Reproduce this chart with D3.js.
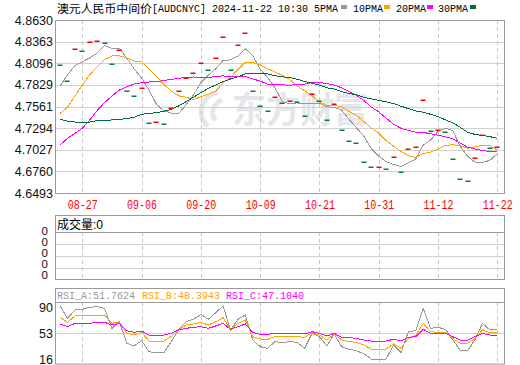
<!DOCTYPE html>
<html><head><meta charset="utf-8">
<script src="https://cdn.jsdelivr.net/npm/d3@7"></script>
<style>
body{margin:0;background:#fff;}
svg{display:block;}
</style></head>
<body><svg id="c" width="520" height="365"></svg>
<script>
// ---------- data ----------
const dates = ["08-22","08-23","08-26","08-27","08-28","08-29","08-30","09-02","09-03","09-04",
"09-05","09-06","09-09","09-10","09-11","09-12","09-13","09-18","09-19","09-20",
"09-23","09-24","09-25","09-26","09-27","09-30","10-08","10-09","10-10","10-11",
"10-14","10-15","10-16","10-17","10-18","10-21","10-22","10-23","10-24","10-25",
"10-28","10-29","10-30","10-31","11-01","11-04","11-05","11-06","11-07","11-08",
"11-11","11-12","11-13","11-14","11-15","11-18","11-19","11-20","11-21","11-22"];
const fix = [4.8074,4.7872,4.8268,4.8243,4.8354,4.8366,4.8342,4.8086,4.8255,4.7753,
4.7687,4.7786,4.7354,4.7366,4.7350,4.7547,4.7749,4.7909,4.7971,4.8095,
4.8008,4.8156,4.8420,4.8008,4.8321,4.8465,4.7749,4.7564,4.7506,4.7675,
4.7605,4.7629,4.7617,4.7440,4.7712,4.7625,4.7395,4.7588,4.7271,4.7131,
4.7111,4.6872,4.6814,4.6816,4.6789,4.6938,4.6748,4.7037,4.7061,4.7638,
4.7255,4.7271,4.7242,4.6909,4.6662,4.6637,4.6925,4.7214,4.7049,4.7057];
// moving-average values before a full window of the shown data exists
const ma5Head = [4.7815,4.7951,4.8066,4.8115];
const ma10Head = [4.7477,4.7551,4.7691,4.7827,4.7951,4.8054,4.8144,4.8185,4.8189];
const ma20Head = [4.7086,4.7168,4.7230,4.7292,4.7395,4.7510,4.7609,4.7691,4.7765,4.7806,
4.7839,4.7856,4.7864,4.7868,4.7881,4.7897,4.7909,4.7922,4.7926];
const ma30Head = [4.7403,4.7382,4.7370,4.7366,4.7370,4.7386,4.7391,4.7395,4.7403,4.7411,
4.7428,4.7465,4.7477,4.7485,4.7502,4.7526,4.7568,4.7621,4.7675,4.7732,
4.7786,4.7827,4.7868,4.7901,4.7930,4.7963,4.7971,4.7971,4.7963];
const rsiA = [91.4,73.9,85.7,86.7,89.5,90.5,88.1,59.6,69.1,38.3,
34.5,42.1,26.4,25.0,25.0,40.7,57.3,69.1,72.4,79.6,
72.4,81.9,91.4,57.3,72.4,78.6,43.0,33.5,31.2,40.7,
39.2,40.7,39.7,31.2,52.5,47.8,34.5,51.6,33.5,29.7,
27.8,23.1,16.0,16.0,16.0,35.9,25.0,54.9,56.3,88.1,
59.6,61.1,58.2,43.0,28.8,27.8,44.0,66.7,57.3,57.3];
const rsiB = [75.3,68.2,77.2,77.2,78.6,78.6,78.6,66.7,69.1,52.5,
50.1,53.9,41.6,41.6,41.6,47.8,57.3,64.4,65.8,68.2,
64.4,69.1,74.8,58.2,66.7,71.5,47.8,44.5,44.0,47.8,
47.8,48.7,47.8,46.8,53.5,50.1,43.0,51.6,43.0,40.7,
39.7,35.9,30.2,30.2,30.2,37.3,31.2,45.4,50.1,66.7,
54.9,53.9,53.9,45.4,38.3,38.3,45.4,57.3,53.5,53.5];
const rsiC = [65.8,62.0,66.7,66.7,66.7,68.2,68.2,64.4,66.7,56.3,
53.9,55.8,50.1,50.1,50.1,52.5,57.3,59.6,61.1,62.0,
59.6,63.0,66.7,58.2,62.0,65.8,53.9,51.1,51.1,52.5,
52.5,52.5,51.6,51.6,54.9,52.5,48.7,52.5,46.8,46.3,
45.4,43.0,41.6,41.6,41.6,44.0,41.6,46.8,47.8,58.2,
52.5,52.5,52.5,47.8,43.0,43.0,47.8,52.5,50.1,50.1];
const priceTicks = [4.6493,4.6760,4.7027,4.7294,4.7561,4.7829,4.8096,4.8363,4.8630];
const labelDates = ["08-27","09-06","09-20","10-09","10-21","10-31","11-12","11-22"];
const rsiTicks = [16,53,90];
const volTickLabels = ["0","0","0","0","0"];
const volumeLast = 0;
const rsiLegend = [["RSI_A",51.7624],["RSI_B",48.3943],["RSI_C",47.1040]];

// ---------- layout ----------
const L = 55, R = 505;
const M = {top:20, bottom:193};
const V = {top:215, head:232, bottom:279};
const S = {top:288, head:302, bottom:364};
const colRed = "#ff0000", colGreen = "#008040";
const cMA = ["#999999","#ffa500","#ff00ff","#006f3c"];
const grid = "#d0d0d0", border = "#999999";
const mono = "'Liberation Mono', monospace";
const cjk = "'Noto Sans CJK SC', sans-serif";
const sans = "'Liberation Sans', Arial, sans-serif";

const svg = d3.select("#c");
const x = d3.scalePoint().domain(dates).range([60.07, 497.3]);
const y = d3.scaleLinear().domain([4.6493, 4.8630]).range([M.bottom, M.top]);
const yR = d3.scaleLinear().domain([16, 90]).range([359, 307]);

function ma(n, head){
  return fix.map((v,i)=> i < n-1 ? head[i] : d3.mean(fix.slice(i-n+1, i+1)));
}
const mas = [ma(5,ma5Head), ma(10,ma10Head), ma(20,ma20Head), ma(30,ma30Head)];

// ---------- title ----------
const title = svg.append("g");
title.append("text").attr("x",57).attr("y",13).attr("font-family",cjk).attr("font-size",11.5)
  .attr("textLength",95).attr("lengthAdjust","spacingAndGlyphs")
  .attr("fill","#000").text("澳元人民币中间价");
title.append("text").attr("x",152).attr("y",12).attr("font-family",mono).attr("font-size",10)
  .attr("fill","#000").text("[AUDCNYC] 2024-11-22 10:30 5PMA");
const legItems = [["10PMA",353,384],["20PMA",396,427],["30PMA",438,470]];
title.append("rect").attr("x",341).attr("y",5).attr("width",6).attr("height",4).attr("fill",cMA[0]);
legItems.forEach((d,k)=>{
  title.append("text").attr("x",d[1]).attr("y",12).attr("font-family",mono).attr("font-size",10)
    .attr("fill","#000").text(d[0]);
  title.append("rect").attr("x",d[2]).attr("y",5).attr("width",6).attr("height",4).attr("fill",cMA[k+1]);
});

// ---------- main panel ----------
const main = svg.append("g");
// watermark
main.append("text").attr("x",232).attr("y",123).attr("font-family",cjk).attr("font-weight","bold")
  .attr("font-size",36).attr("textLength",136).attr("lengthAdjust","spacingAndGlyphs")
  .attr("fill","#e6e6ea").text("东方财富");
main.append("path").attr("d","M218,92 C200,96 196,118 208,126 M222,100 C212,104 210,116 216,120")
  .attr("fill","none").attr("stroke","#e6e6ea").attr("stroke-width",5);

main.append("g").selectAll("line").data(priceTicks.slice(1,-1)).join("line")
  .attr("x1",L).attr("x2",R).attr("y1",d=>Math.round(y(d))+0.5).attr("y2",d=>Math.round(y(d))+0.5)
  .attr("stroke",grid);
function vgrid(g, top, bottom){
  g.append("g").selectAll("line").data(labelDates).join("line")
    .attr("x1",d=>Math.round(x(d))+0.5).attr("x2",d=>Math.round(x(d))+0.5)
    .attr("y1",top).attr("y2",bottom).attr("stroke","#c8c8c8").attr("stroke-dasharray","4,3");
}
vgrid(main, M.top, M.bottom);

const line = d3.line().x((d,i)=>x(dates[i])).y(d=>y(d));
mas.forEach((m,k)=>{
  main.append("path").datum(m).attr("d",line).attr("fill","none").attr("stroke",cMA[k])
    .attr("stroke-width",1).attr("shape-rendering","crispEdges");
});
main.append("g").selectAll("rect").data(fix).join("rect")
  .attr("x",(d,i)=>Math.round(x(dates[i]))-2.5).attr("width",5)
  .attr("y",d=>Math.round(y(d))-0.5).attr("height",1.5)
  .attr("fill",(d,i)=> i>0 && d>=fix[i-1] ? colRed : colGreen);

main.append("rect").attr("x",L+0.5).attr("y",M.top+0.5).attr("width",R-L-1).attr("height",M.bottom-M.top)
  .attr("fill","none").attr("stroke",border);

const yAxis = main.append("g").attr("transform",`translate(${L},0)`)
  .call(d3.axisLeft(y).tickValues(priceTicks).tickFormat(d3.format(".4f")).tickSize(0).tickPadding(2));
yAxis.select(".domain").remove();
yAxis.selectAll("text").attr("font-family",sans).attr("font-size",12.5).attr("fill","#111");

const xAxis = main.append("g").attr("transform",`translate(0,${M.bottom})`)
  .call(d3.axisBottom(x).tickValues(labelDates).tickSize(0).tickPadding(0));
xAxis.select(".domain").remove();
xAxis.selectAll("text").attr("font-family",mono).attr("font-size",12).attr("fill",colRed)
  .attr("y",15.5).attr("dy",null).attr("textLength",30).attr("lengthAdjust","spacingAndGlyphs");

// ---------- volume panel ----------
const vol = svg.append("g");
[244,256,268].forEach(v=>{
  vol.append("line").attr("x1",L).attr("x2",R).attr("y1",v+0.5).attr("y2",v+0.5).attr("stroke",grid);
});
vgrid(vol, V.head, V.bottom);
vol.append("rect").attr("x",L+0.5).attr("y",V.top+0.5).attr("width",R-L-1).attr("height",V.bottom-V.top)
  .attr("fill","none").attr("stroke",border);
vol.append("line").attr("x1",L).attr("x2",R).attr("y1",V.head+0.5).attr("y2",V.head+0.5).attr("stroke",border);
vol.append("text").attr("x",57).attr("y",229).attr("font-family",cjk).attr("font-size",12).attr("fill","#000").text("成交量");
vol.append("text").attr("x",93).attr("y",229).attr("font-family",sans).attr("font-size",12).attr("fill","#000").text(":"+volumeLast);
const yV = d3.scalePoint().domain(d3.range(volTickLabels.length)).range([231,275]);
vol.append("g").selectAll("text").data(volTickLabels).join("text")
  .attr("x",48).attr("y",(d,i)=>yV(i)).attr("dy","0.35em").attr("text-anchor","end")
  .attr("font-family",sans).attr("font-size",11.5).attr("fill","#111").text(d=>d);

// ---------- RSI panel ----------
const rs = svg.append("g");
rs.append("line").attr("x1",L).attr("x2",R).attr("y1",Math.round(yR(53))+0.5).attr("y2",Math.round(yR(53))+0.5).attr("stroke",grid);
vgrid(rs, S.head, S.bottom);
const rline = d3.line().x((d,i)=>x(dates[i])).y(d=>yR(d));
[rsiA,rsiB,rsiC].forEach((arr,k)=>{
  rs.append("path").datum(arr).attr("d",rline).attr("fill","none").attr("stroke",cMA[k])
    .attr("stroke-width",1).attr("shape-rendering","crispEdges");
});
rs.append("rect").attr("x",L+0.5).attr("y",S.top+0.5).attr("width",R-L-1).attr("height",S.bottom-S.top-0.5)
  .attr("fill","none").attr("stroke",border);
rs.append("line").attr("x1",L).attr("x2",R).attr("y1",S.head+0.5).attr("y2",S.head+0.5).attr("stroke",border);
const rsiX = [57,142,226];
rsiLegend.forEach((d,k)=>{
  rs.append("text").attr("x",rsiX[k]).attr("y",299).attr("font-family",mono).attr("font-size",10)
    .attr("fill",cMA[k]).text(d[0]+":"+d[1].toFixed(4));
});
const rAxis = rs.append("g").attr("transform",`translate(${L},0)`)
  .call(d3.axisLeft(yR).tickValues(rsiTicks).tickFormat(d3.format("d")).tickSize(0).tickPadding(2));
rAxis.select(".domain").remove();
rAxis.selectAll("text").attr("font-family",sans).attr("font-size",12.5).attr("fill","#111");
</script></body></html>
